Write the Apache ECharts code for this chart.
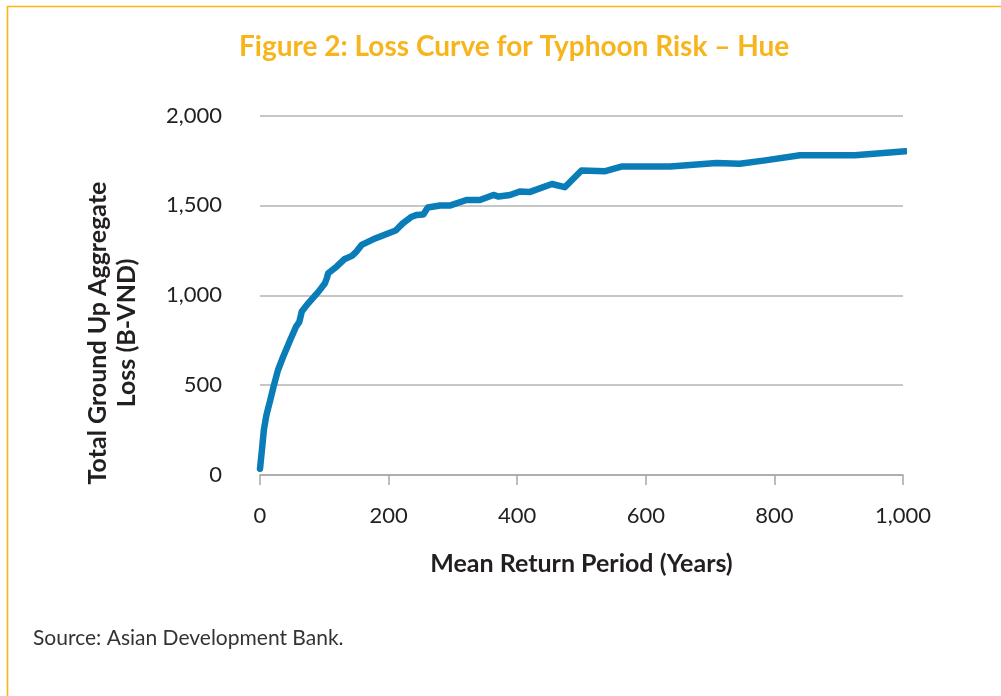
<!DOCTYPE html>
<html>
<head>
<meta charset="utf-8">
<script src="https://cdn.jsdelivr.net/npm/echarts@6/dist/echarts.min.js"></script>
<style>
  html, body { margin: 0; padding: 0; background: #fff; }
  #main { width: 1001px; height: 696px; }
</style>
</head>
<body>
<div id="main"></div>
<script>
  // return period (years) and loss (B-VND)
  var years = [0, 3, 6, 10, 16, 21, 28, 36, 47, 56, 58, 61, 65, 75, 91, 101, 104, 106, 119, 131, 143, 150, 158, 176, 197, 211, 222, 236, 244, 254, 261, 280, 295, 321, 342, 363, 371, 389, 404, 420, 454, 474, 500, 537, 562, 638, 710, 746, 783, 840, 925, 1004];
  var losses = [35, 139, 250, 334, 417, 491, 584, 658, 751, 825, 835, 850, 909, 955, 1020, 1067, 1095, 1122, 1159, 1200, 1219, 1243, 1280, 1311, 1341, 1360, 1400, 1437, 1447, 1449, 1488, 1499, 1499, 1530, 1530, 1558, 1549, 1558, 1577, 1575, 1619, 1601, 1694, 1690, 1716, 1716, 1736, 1732, 1749, 1779, 1779, 1801];
  var xTicks = [0, 200, 400, 600, 800, 1000];
  var yTicks = [0, 500, 1000, 1500, 2000];

  var fmt = function (v) { return v.toLocaleString('en-US'); };

  var chart = echarts.init(document.getElementById('main'));
  chart.setOption({
    animation: false,
    backgroundColor: '#fff',
    title: {
      text: 'Figure 2: Loss Curve for Typhoon Risk \u2013 Hue',
      left: 234,
      top: 28,
      textStyle: { color: '#f7b51b', fontFamily: 'Lato', fontWeight: 'bold', fontSize: 28 }
    },
    grid: { left: 260, right: 98, top: 115.5, bottom: 221 },
    xAxis: {
      type: 'value',
      min: xTicks[0],
      max: xTicks[xTicks.length - 1],
      interval: 200,
      name: 'Mean Return Period (Years)',
      nameLocation: 'middle',
      nameGap: 76,
      nameTextStyle: { color: '#231f20', fontFamily: 'Lato', fontWeight: 'bold', fontSize: 25 },
      axisLine: { show: true, lineStyle: { color: '#a6a6a6', width: 1.5 } },
      axisTick: { show: true, length: 10, lineStyle: { color: '#a6a6a6', width: 1.5 } },
      axisLabel: { margin: 30, color: '#231f20', fontFamily: 'Lato', fontSize: 22, formatter: fmt },
      splitLine: { show: false }
    },
    yAxis: {
      type: 'value',
      min: yTicks[0],
      max: yTicks[yTicks.length - 1],
      interval: 500,
      axisLine: { show: false },
      axisTick: { show: false },
      axisLabel: { margin: 38, color: '#231f20', fontFamily: 'Lato', fontSize: 22, formatter: fmt },
      splitLine: { lineStyle: { color: '#b3b3b3', width: 1.5 } }
    },
    graphic: [
      {
        type: 'line',
        shape: { x1: 7, y1: 6.5, x2: 1001, y2: 6.5 },
        style: { stroke: '#fbb515', lineWidth: 1.6 }
      },
      {
        type: 'line',
        shape: { x1: 7.5, y1: 6, x2: 7.5, y2: 696 },
        style: { stroke: '#fbb515', lineWidth: 1.6 }
      },
      {
        type: 'text',
        x: 112,
        y: 333,
        rotation: Math.PI / 2,
        style: {
          text: 'Total Ground Up Aggregate\nLoss (B-VND)',
          align: 'center',
          verticalAlign: 'middle',
          lineHeight: 29,
          fill: '#231f20',
          font: 'bold 25px Lato'
        }
      },
      {
        type: 'text',
        left: 33,
        top: 628,
        style: {
          text: 'Source: Asian Development Bank.',
          fill: '#333',
          font: '21px Lato'
        }
      }
    ],
    series: [{
      type: 'line',
      data: years.map(function (y, i) { return [y, losses[i]]; }),
      showSymbol: false,
      smooth: false,
      lineStyle: { color: '#0a7db8', width: 6.5, cap: 'round', join: 'round' }
    }]
  });
</script>
</body>
</html>
